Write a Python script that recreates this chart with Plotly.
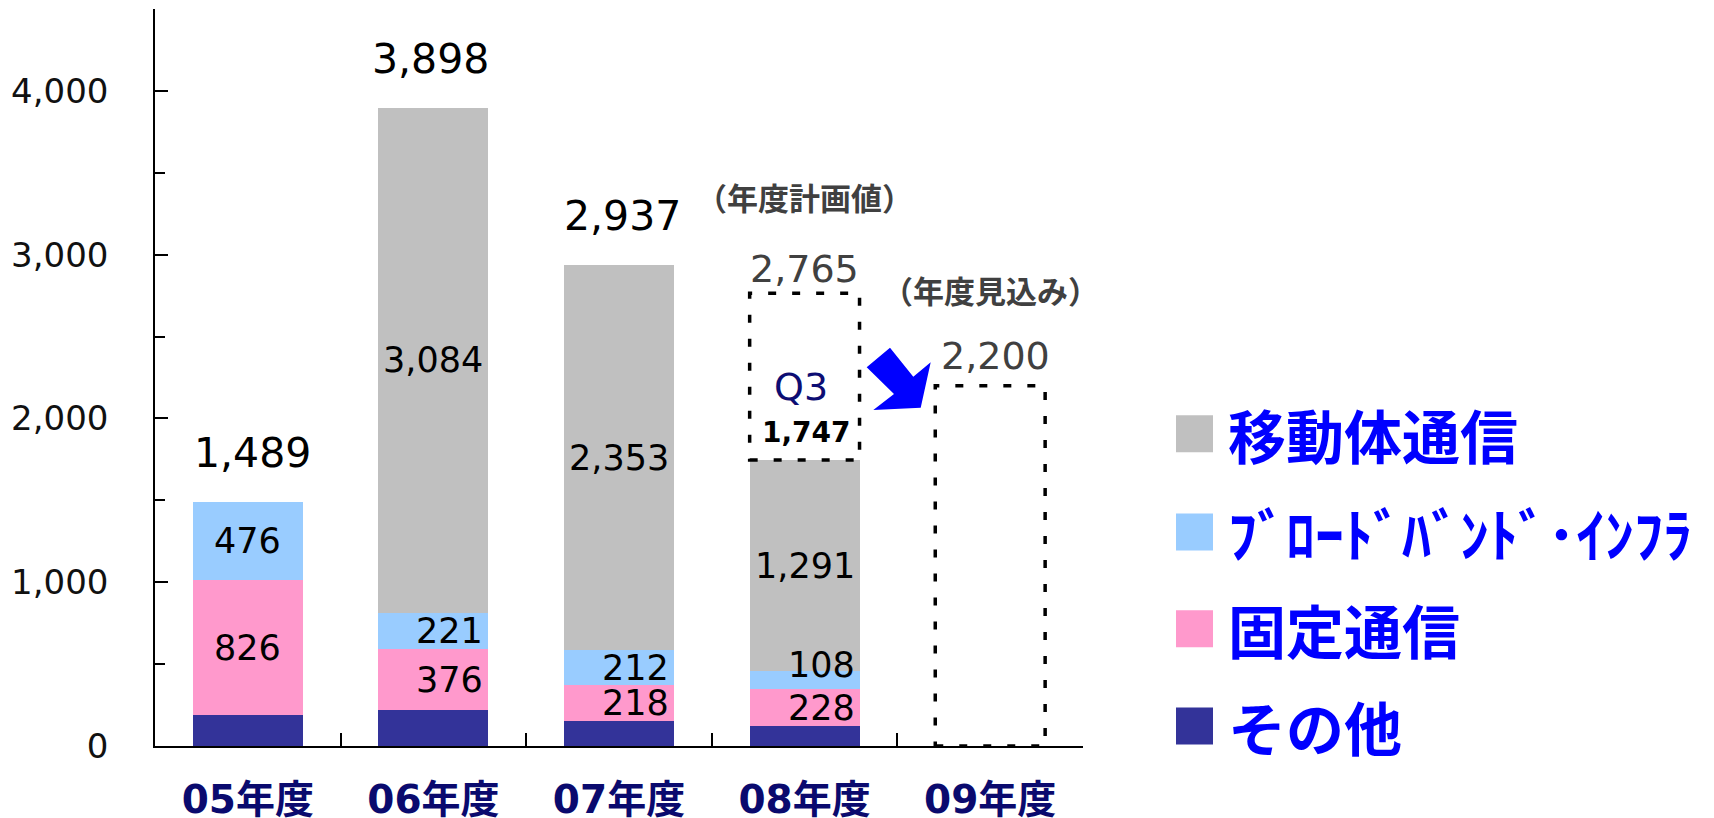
import plotly.graph_objects as go

# ---------------- data ----------------
categories = ["05年度", "06年度", "07年度", "08年度", "09年度"]
other = [187, 217, 154, 120, None]          # その他
fixed = [826, 376, 218, 228, None]          # 固定通信
broadband = [476, 221, 212, 108, None]      # ﾌﾞﾛｰﾄﾞﾊﾞﾝﾄﾞ･ｲﾝﾌﾗ
mobile = [None, 3084, 2353, 1291, None]     # 移動体通信
totals = [1489, 3898, 2937, 1747, None]
plan_08 = 2765        # 年度計画値
forecast_09 = 2200    # 年度見込み

series_names = ["その他", "固定通信", "ﾌﾞﾛｰﾄﾞﾊﾞﾝﾄﾞ･ｲﾝﾌﾗ", "移動体通信"]
series_colors = ["#333399", "#FF99CC", "#99CCFF", "#C0C0C0"]
y_ticks = [0, 1000, 2000, 3000, 4000]

# ---------------- layout constants ----------------
# the page body has an 8px margin, so the figure is offset by 8px in the window
OFF = 8
W, H = 1714 - OFF, 818 - OFF
ML, MT = 155 - OFF, 9 - OFF
PLOT_R, PLOT_B = 1083 - OFF, 746 - OFF
MR, MB = W - PLOT_R, H - PLOT_B
PW, PH = W - ML - MR, H - MT - MB
BARGAP = 0.408
BW = 1 - BARGAP

NUM_FONT = "DejaVu Sans, Noto Sans CJK JP, sans-serif"
JP_FONT = "Noto Sans CJK JP, DejaVu Sans, sans-serif"
SEG_SIZE = 35


def px2paper(x, y):
    """window pixel -> paper coordinates"""
    return (x - OFF - ML) / PW, (H - MB - (y - OFF)) / PH


fig = go.Figure()
for name, vals, col in zip(series_names, [other, fixed, broadband, mobile], series_colors):
    fig.add_trace(go.Bar(
        x=categories, y=vals, name=name,
        marker=dict(color=col, line=dict(width=0)),
        showlegend=False, hoverinfo="x+y+name",
    ))

annotations = []
shapes = []

# segment labels
for i in range(4):
    base = other[i]
    segs = [(fixed[i], False), (broadband[i], False), (mobile[i], True)]
    for val, centered in segs:
        if not val:
            continue
        mid = base + val / 2
        base += val
        if i == 0 or centered:
            annotations.append(dict(x=i, y=mid, xref="x", yref="y", text=f"{val:,}",
                                    showarrow=False, xanchor="center", yanchor="middle",
                                    font=dict(family=NUM_FONT, size=SEG_SIZE, color="#000000")))
        else:
            ys = 15 if (i == 3 and val == broadband[3]) else 0
            annotations.append(dict(x=i + BW / 2, y=mid, xref="x", yref="y", text=f"{val:,}",
                                    showarrow=False, xanchor="right", yanchor="middle",
                                    xshift=-3, yshift=ys, height=30,
                                    font=dict(family=NUM_FONT, size=SEG_SIZE, color="#000000")))

# totals above bars
tot_dx = [5, -3, 3]
for i in range(3):
    annotations.append(dict(x=i, y=totals[i], xref="x", yref="y", text=f"{totals[i]:,}",
                            showarrow=False, xanchor="center", yanchor="middle", yshift=49,
                            xshift=tot_dx[i],
                            font=dict(family=NUM_FONT, size=41, color="#000000")))

# 08 Q3 actual inside dotted box
annotations.append(dict(x=3, y=totals[3], xref="x", yref="y", text=f"<b>{totals[3]:,}</b>",
                        showarrow=False, xanchor="center", yanchor="middle", yshift=27, xshift=2,
                        font=dict(family=NUM_FONT, size=28, color="#000000")))
annotations.append(dict(x=3, y=totals[3], xref="x", yref="y", text="Q3",
                        showarrow=False, xanchor="center", yanchor="middle", yshift=73, xshift=-4,
                        font=dict(family=NUM_FONT, size=38, color="#0D0D73")))
# plan / forecast
annotations.append(dict(x=3, y=plan_08, xref="x", yref="y", text=f"{plan_08:,}",
                        showarrow=False, xanchor="center", yanchor="middle", yshift=24,
                        font=dict(family=NUM_FONT, size=38, color="#404040")))
annotations.append(dict(x=3, y=plan_08, xref="x", yref="y", text="<b>（年度計画値）</b>",
                        showarrow=False, xanchor="center", yanchor="middle", yshift=97,
                        font=dict(family=JP_FONT, size=31, color="#404040")))
annotations.append(dict(x=4, y=forecast_09, xref="x", yref="y", text=f"{forecast_09:,}",
                        showarrow=False, xanchor="center", yanchor="middle", yshift=30, xshift=5,
                        font=dict(family=NUM_FONT, size=38, color="#404040")))
annotations.append(dict(x=4, y=forecast_09, xref="x", yref="y", text="<b>（年度見込み）</b>",
                        showarrow=False, xanchor="center", yanchor="middle", yshift=96,
                        font=dict(family=JP_FONT, size=31, color="#404040")))

# dotted boxes
DOT = dict(color="#000000", width=3.5, dash="8px,16px")
shapes.append(dict(type="rect", xref="x", yref="y", x0=3 - BW / 2, x1=3 + BW / 2,
                   y0=totals[3], y1=plan_08, line=DOT, fillcolor="rgba(0,0,0,0)"))
shapes.append(dict(type="rect", xref="x", yref="y", x0=4 - BW / 2, x1=4 + BW / 2,
                   y0=0, y1=forecast_09, line=DOT, fillcolor="rgba(0,0,0,0)"))

# blue block arrow (window pixel outline)
arrow_px = [(866.7, 367.3), (890, 347.7), (913.3, 376.7), (930.7, 362.3),
            (920.7, 407.7), (873.3, 410), (894, 394)]
pts = [px2paper(x, y) for x, y in arrow_px]
path = "M " + " L ".join(f"{x:.5f},{y:.5f}" for x, y in pts) + " Z"
shapes.append(dict(type="path", xref="paper", yref="paper", path=path,
                   fillcolor="#0000FF", line=dict(width=0)))

# manual legend
legend_rows = [("移動体通信", "#C0C0C0", 433.7), ("ﾌﾞﾛｰﾄﾞﾊﾞﾝﾄﾞ･ｲﾝﾌﾗ", "#99CCFF", 532),
               ("固定通信", "#FF99CC", 628.7), ("その他", "#333399", 726)]
for text, col, yc in legend_rows:
    x0, y0 = px2paper(1176, yc + 18.5)
    x1, y1 = px2paper(1213, yc - 18.5)
    shapes.append(dict(type="rect", xref="paper", yref="paper", x0=x0, x1=x1, y0=y0, y1=y1,
                       fillcolor=col, line=dict(width=0)))
    tx, ty = px2paper(1226, yc)
    annotations.append(dict(x=tx, y=ty, xref="paper", yref="paper", text=f"<b>{text}</b>",
                            showarrow=False, xanchor="left", yanchor="middle",
                            font=dict(family=JP_FONT, size=58, color="#0000FF")))

fig.update_layout(
    width=W, height=H,
    margin=dict(l=ML, r=MR, t=MT, b=MB, pad=0, autoexpand=False),
    paper_bgcolor="#FFFFFF", plot_bgcolor="#FFFFFF",
    barmode="stack", bargap=BARGAP,
    showlegend=False,
    annotations=annotations, shapes=shapes,
    xaxis=dict(
        type="category", range=[-0.5, 4.5], tickson="boundaries", automargin=False,
        ticks="inside", ticklen=13, tickwidth=1.5, tickcolor="#000000",
        showline=True, linecolor="#000000", linewidth=1.5, showgrid=False, zeroline=False,
        tickfont=dict(family=NUM_FONT, size=39, color="#0A0A6E", weight="bold"),
        ticklabelstandoff=18,
    ),
    yaxis=dict(
        range=[0, 4500], tickvals=y_ticks, tickformat=",d", automargin=False,
        ticks="inside", ticklen=13, tickwidth=1.5, tickcolor="#000000",
        minor=dict(ticks="inside", ticklen=10, dtick=500, tickwidth=1.5, tickcolor="#000000", showgrid=False),
        showline=True, linecolor="#000000", linewidth=1.5, showgrid=False, zeroline=False,
        tickfont=dict(family=NUM_FONT, size=34, color="#111111"),
        ticklabelstandoff=38,
    ),
)

fig.write_html("out.html")
